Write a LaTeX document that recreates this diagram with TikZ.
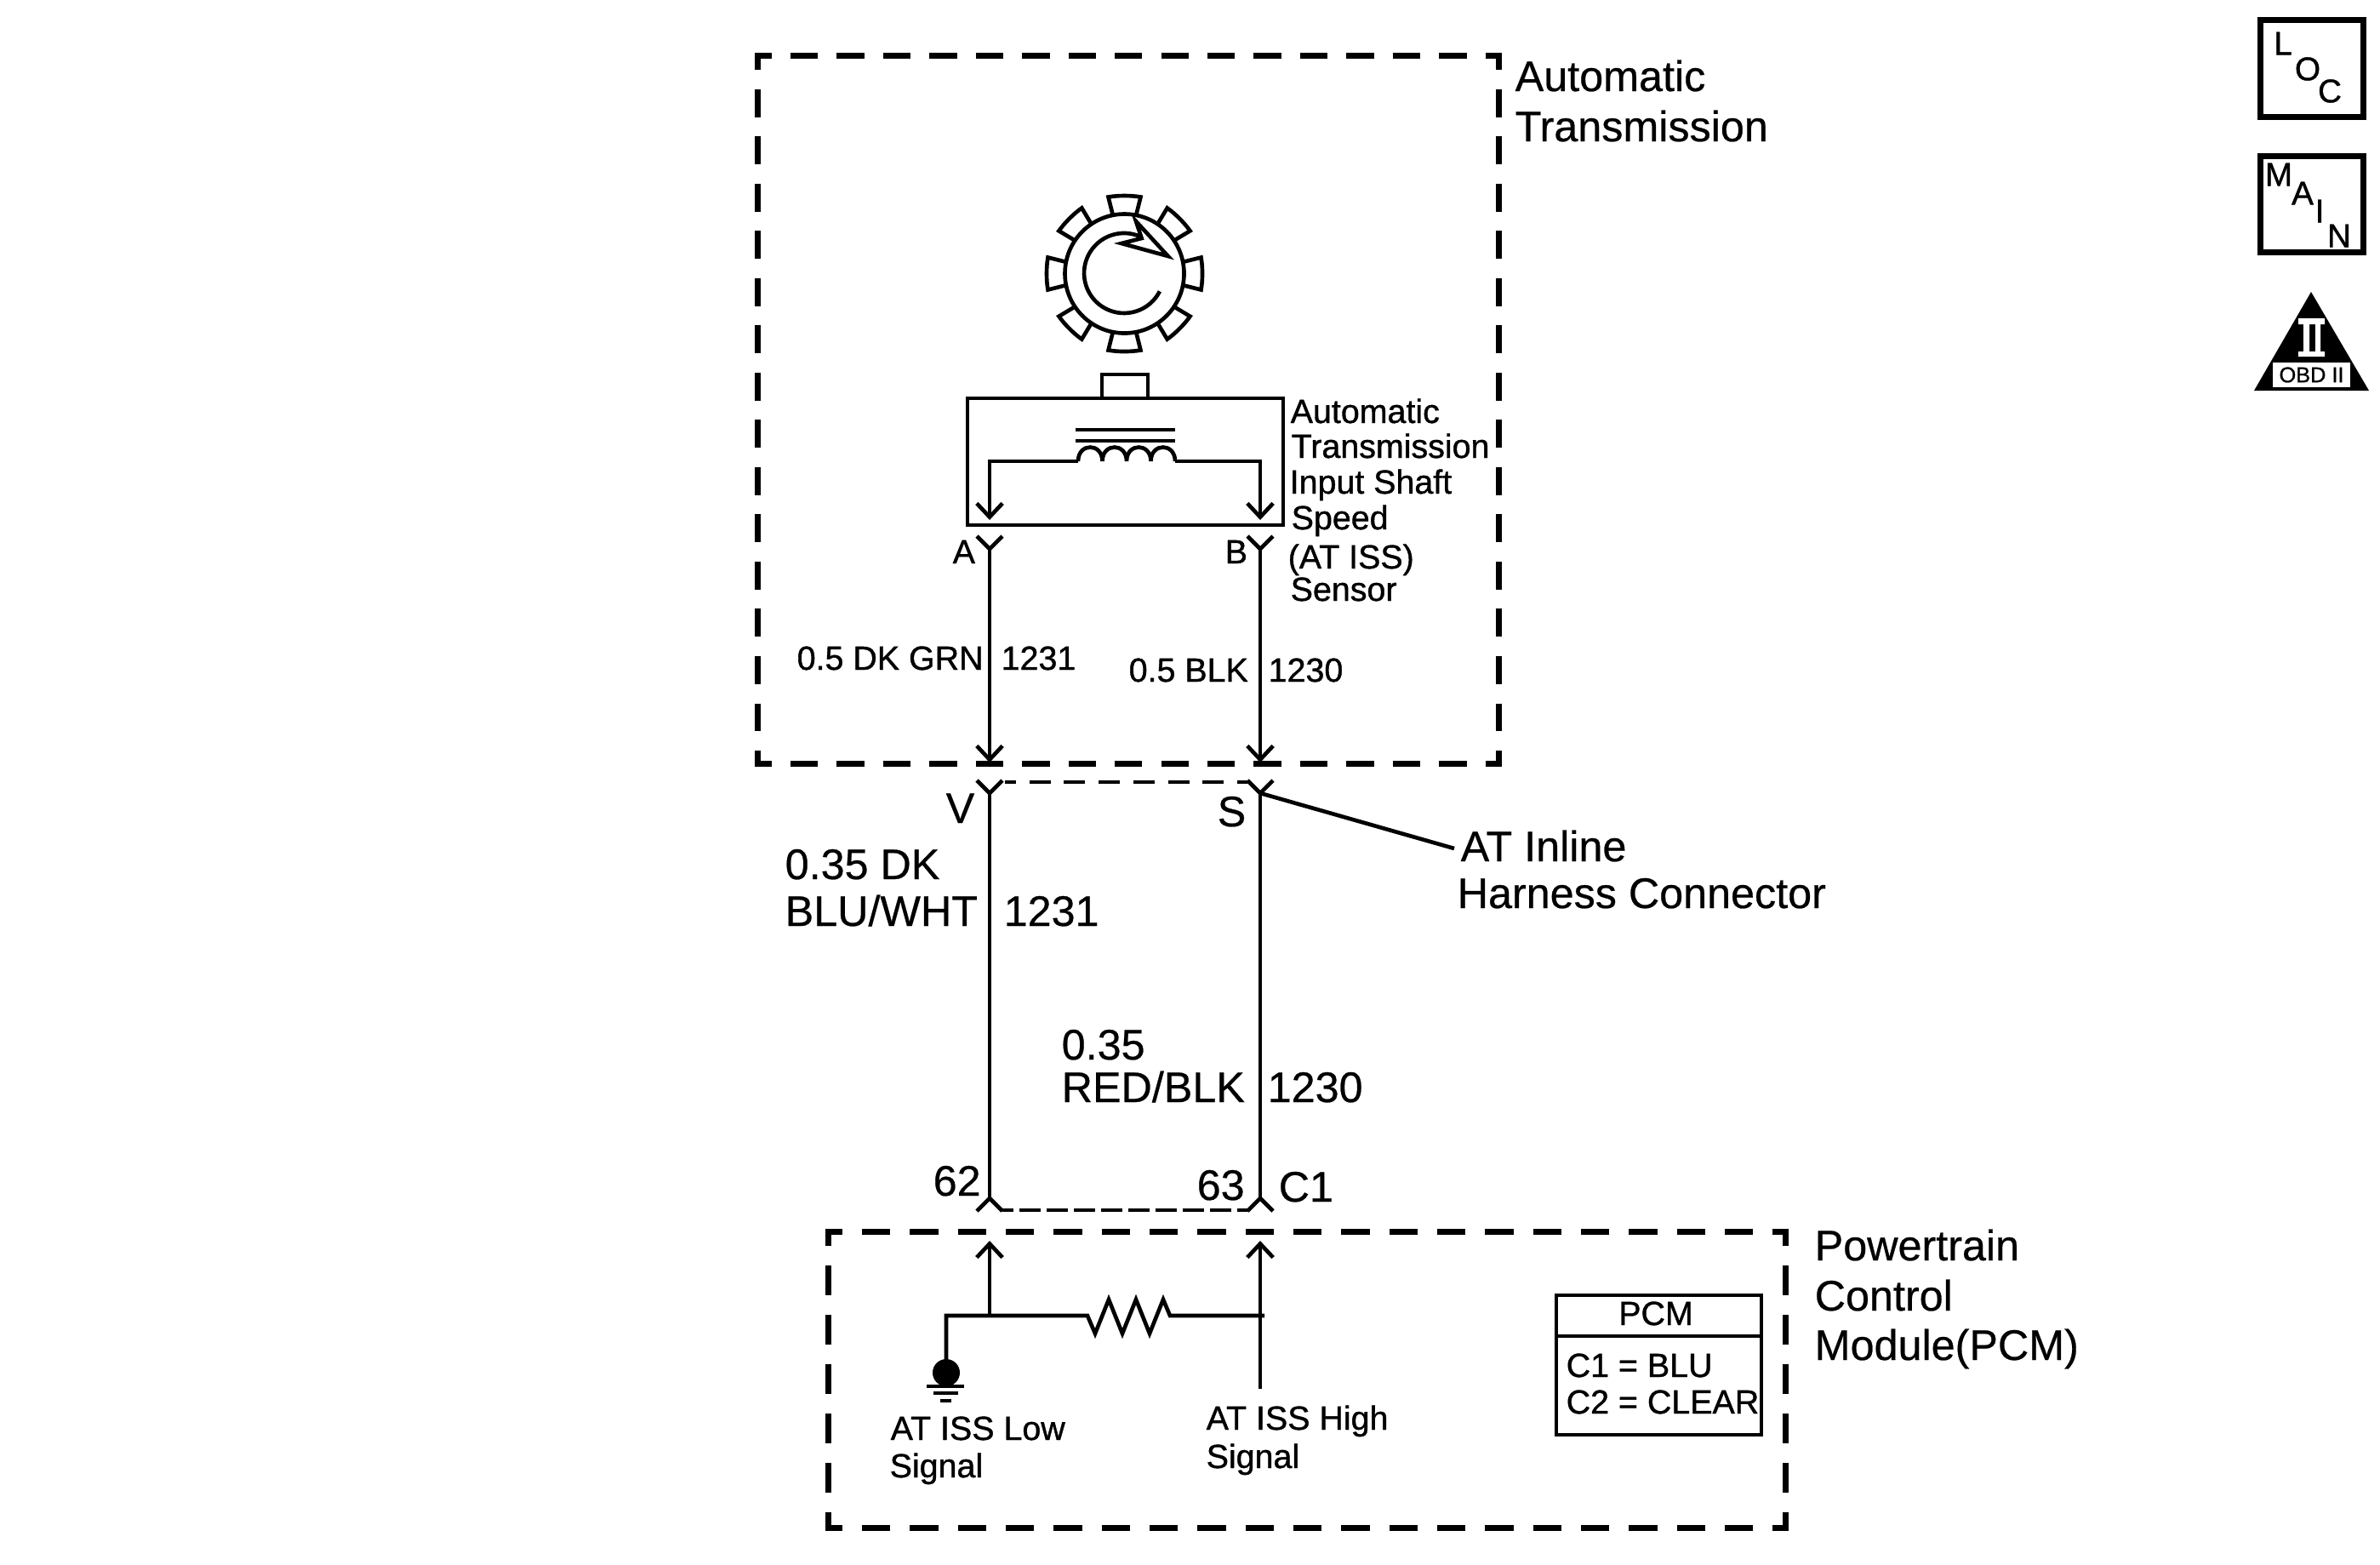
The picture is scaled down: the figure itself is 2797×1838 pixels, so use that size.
\documentclass[tikz,border=0pt]{standalone}
\usepackage{fontspec}
\setmainfont{Liberation Sans}
\newfontfamily\labelfont[FakeBold=0.5]{Liberation Sans}
\newfontfamily\heavyfont[FakeBold=1]{Liberation Sans}
\usetikzlibrary{arrows.meta}

\begin{document}
\begin{tikzpicture}[x=0.01cm,y=-0.01cm,
		   wire/.style={line width=1.32pt},
		   wirearrow/.style={wire,-{Straight Barb[length=4.6pt,width=8.6pt,line width=1.32pt]}},
		   dashside/.style={line width=2pt},
		   transwide/.style={dashside,dash pattern=on 0.324cm off 0.22cm,dash phase=0.124cm},
		   transtall/.style={dashside,dash pattern=on 0.329cm off 0.226cm,dash phase=0.129cm},
		   pcmwide/.style={dashside,dash pattern=on 0.333cm off 0.23cm,dash phase=0.133cm},
		   pcmtall/.style={dashside,dash pattern=on 0.35cm off 0.23cm,dash phase=0.15cm},
		   harnesstop/.style={wire,dash pattern=on 0.25cm off 0.157cm,dash phase=0.12cm},
		   harnessbottom/.style={wire,dash pattern=on 0.25cm off 0.07cm,dash phase=0.12cm},
		   bigtext/.style={font=\labelfont\fontsize{14.3pt}{17pt}\selectfont,inner sep=0pt,anchor=base west,xshift=-0.02cm},
		   smalltext/.style={font=\heavyfont\fontsize{11.2pt}{13pt}\selectfont,inner sep=0pt,anchor=base west,xshift=-0.01cm},
		   icon/.style={draw,line width=2pt,inner sep=0pt},
		   iconletter/.style={font=\heavyfont\fontsize{11pt}{13pt}\selectfont,inner sep=0pt}]
	\useasboundingbox (0,0) rectangle (2797,1838);

	% dashed module outlines
	\foreach \y in {65.5,897.5} \draw[transwide] (887,\y) -- (1765,\y);
	\foreach \x in {890.5,1761} \draw[transtall] (\x,62) -- (\x,901);
	\foreach \y in {1447.5,1795} \draw[pcmwide] (970,\y) -- (2102,\y);
	\foreach \x in {973.5,2098.5} \draw[pcmtall] (\x,1444) -- (\x,1798);

	% gear wheel
	\coordinate (gear) at (1321.5,321.5);
	\draw[wire] (gear) circle (70);
	\foreach \a in {0,45,...,315} {
		\begin{scope}[shift={(gear)},rotate=\a]
			\draw[wire] (-14,-70) -- (-19,-90) .. controls (-8,-92) and (8,-92) .. (19,-90) -- (14,-70);
		\end{scope}
	}
	\draw[wire] (1362.9,342.3) arc[start angle=27,end angle=295,radius=47];
	\draw[wire,line join=miter,miter limit=20] (1335,260) -- (1372.7,301) -- (1318,286) -- (1341.7,280) -- cycle;

	% speed sensor
	\node[draw,wire,inner sep=0pt,minimum width=371*0.01cm,minimum height=149*0.01cm] (sensor) at (1322.5,542.5) {};
	\draw[wire] (sensor.north -| 1295,0) -- (1295,440) -- (1349,440) -- (sensor.north -| 1349,0);
	\foreach \y in {505,518} \draw[wire] (1264,\y) -- (1381,\y);
	\coordinate (coil-l) at (1267,542);
	\coordinate (coil-r) at (1381,542);
	\draw[wire] (coil-l) \foreach \h in {1,...,4} {.. controls +(0,-22) and +(0,-22) .. ++(28.5,0)};
	\draw[wirearrow] (coil-l) -- (1163,542) -- (1163,611);
	\draw[wirearrow] (coil-r) -- (1481,542) -- (1481,611);

	% connector pins
	\foreach \name/\x/\y in {pinA/1163/645,pinB/1481/645,pinV/1163/932,pinS/1481/932} {
		\coordinate (\name) at (\x,\y);
		\draw[wire] (\x-15,\y-15) -- (\name) -- (\x+15,\y-15);
	}
	\foreach \name/\x/\y in {pin62/1163/1408,pin63/1481/1408} {
		\coordinate (\name) at (\x,\y);
		\draw[wire] (\x-15,\y+15) -- (\name) -- (\x+15,\y+15);
	}
	\draw[harnesstop] (1181,919) -- (1466,919);
	\draw[harnessbottom] (1178,1422) -- (1468,1422);
	\coordinate (trans-l) at (1163,896);
	\coordinate (trans-r) at (1481,896);
	\coordinate (pcm-l) at (1163,1458);
	\coordinate (pcm-r) at (1481,1458);

	% wires
	\draw[wirearrow] (pinA) -- (trans-l);
	\draw[wirearrow] (pinB) -- (trans-r);
	\draw[wire] (pinV) -- (pin62);
	\draw[wire] (pinS) -- (pin63);
	\coordinate (leader) at (1709,997);
	\draw[wire] (pinS) -- (leader);

	% pcm inputs
	\coordinate (low) at (1163,1546);
	\coordinate (high) at (1481,1546);
	\coordinate (ground) at (1112,1613);
	\draw[wirearrow] (low) -- (pcm-l);
	\draw[wirearrow] (1481,1632) -- (pcm-r);
	\draw[wire] (ground) -- (1112,1546) -- (1278,1546) -- (1287,1567) -- (1303,1527) -- (1319,1567)
		-- (1335,1527) -- (1351,1567) -- (1367,1527) -- (1375,1546) -- (1486,1546);
	\fill (ground) circle (16);
	\draw[line width=0.9pt] (1089,1629) -- (1133,1629) (1097,1637) -- (1126,1637) (1105,1646) -- (1118,1646);

	% pcm table
	\node[draw,wire,inner sep=0pt,minimum width=241*0.01cm,minimum height=164*0.01cm] (pcmtable) at (1949.5,1604) {};
	\draw[wire] (pcmtable.west |- 0,1570) -- (pcmtable.east |- 0,1570);

	% labels
	\foreach \txt/\x/\y [count=\n] in {Automatic/1782/107,Transmission/1782/166,%
		{V}/1113/967,{S}/1432/971,{0.35 DK}/924/1033,{BLU/WHT}/924/1088,1231/1181/1088,%
		0.35/1249/1245,{RED/BLK}/1249/1295,1230/1491/1295,62/1098/1405,63/1408/1410,C1/1504/1412,%
		{AT Inline}/1718/1012,{Harness Connector}/1714/1067,%
		Powertrain/2134/1481,Control/2134/1540,{Module(PCM)}/2134/1598} {
		\node[bigtext] (big-\n) at (\x,\y) {\txt};
	}
	\foreach \txt/\x/\y [count=\n] in {Automatic/1517/497,Transmission/1518/538,{Input Shaft}/1516/580,%
		Speed/1518/622,{(AT ISS)}/1514/668,Sensor/1517/706,A/1120/662,B/1440/662,%
		{0.5 DK GRN}/937/787,1231/1177/787,{0.5 BLK}/1327/801,1230/1491/801,%
		{AT ISS Low}/1047/1692,Signal/1046/1736,{AT ISS High}/1418/1680,Signal/1418/1725,%
		{C1 = BLU}/1841/1618,{C2 = CLEAR}/1841/1661} {
		\node[smalltext] (small-\n) at (\x,\y) {\txt};
	}
	\node[smalltext,anchor=base] (pcmtitle) at (1947,1557) {PCM};

	% service icons
	\node[icon,minimum width=120.5*0.01cm,minimum height=113.5*0.01cm] (loc) at (2717,80.5) {};
	\node[icon,minimum width=120.5*0.01cm,minimum height=113*0.01cm] (main) at (2717,240) {};
	\foreach \txt/\x/\y [count=\n] in {L/2683/51,O/2712/81,C/2738/107,M/2678/205,A/2706/227,I/2726/248,N/2749/277} {
		\node[iconletter] (letter-\n) at (\x,\y) {\txt};
	}
	\fill (2716,343) -- (2784,459) -- (2649,459) -- cycle;
	\fill[white] (2701,374) rectangle (2732,381) (2701,413) rectangle (2732,419)
		(2707,381) rectangle (2714,413) (2721,381) rectangle (2727,413);
	\node[fill=white,inner sep=0pt,minimum width=91*0.01cm,minimum height=29*0.01cm,font=\heavyfont\fontsize{7.2pt}{9pt}\selectfont] (obd) at (2716.5,440.5) {OBD II};
\end{tikzpicture}
\end{document}
